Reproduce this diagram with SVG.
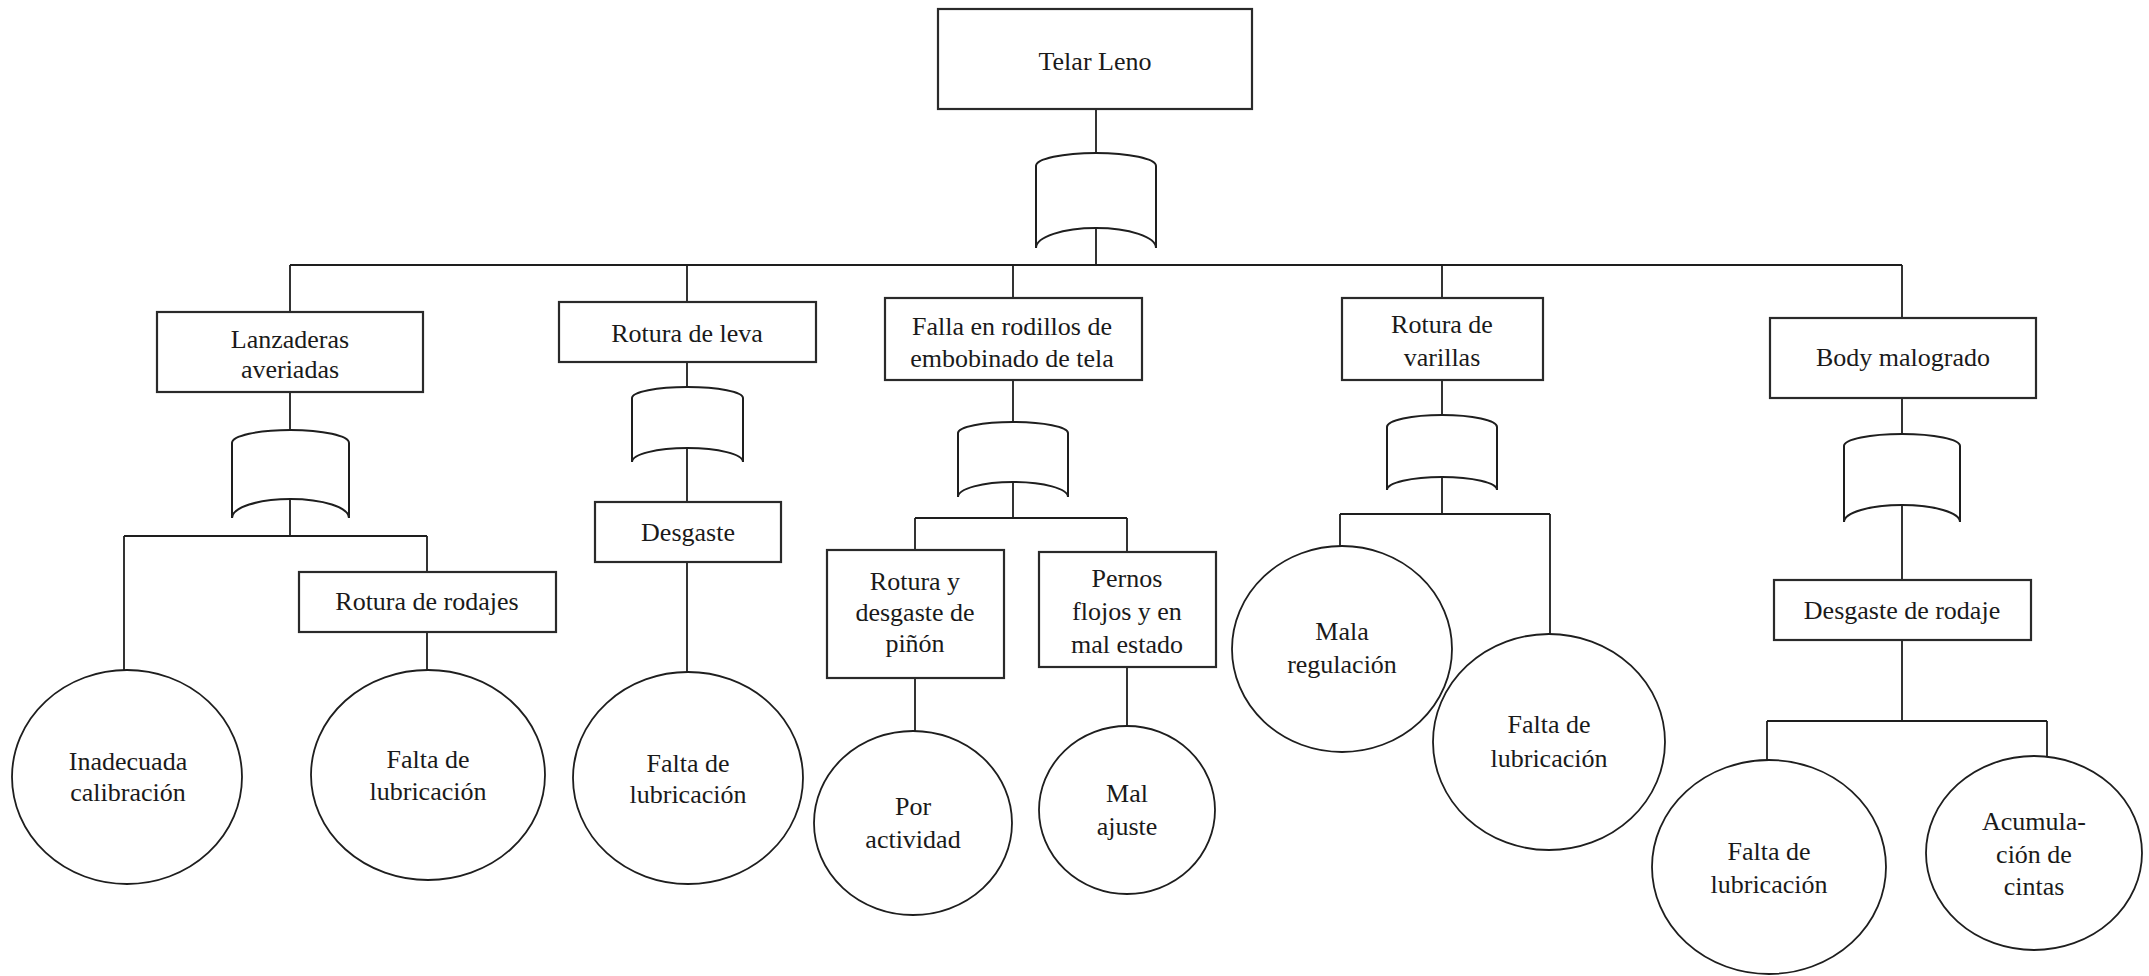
<svg xmlns="http://www.w3.org/2000/svg" width="2149" height="976" viewBox="0 0 2149 976">
  <style>
    .box { fill: #fff; stroke: #2a2a2a; stroke-width: 2.2; }
    .evt { fill: #fff; stroke: #1e1e1e; stroke-width: 1.8; }
    .gate { fill: #fff; stroke: #1e1e1e; stroke-width: 2; stroke-linejoin: miter; }
    .wire { fill: none; stroke: #1e1e1e; stroke-width: 1.8; }
    text { font-family: "Liberation Serif", "Times New Roman", serif; font-size: 26px; fill: #1a1a1a; text-anchor: middle; }
  </style>
  <rect width="2149" height="976" fill="#fff"/>

  <!-- connectors -->
  <g id="connectors" class="wire">
    <path d="M1096,109 V153 M1096,228 V265"/>
    <path d="M290,265 H1902"/>
    <path d="M290,265 V312 M687,265 V302 M1013,265 V298 M1442,265 V298 M1902,265 V318"/>
    <!-- Lanzaderas averiadas -->
    <path d="M290,392 V430 M290,499 V536 M124,536 H427 M124,536 V670 M427,536 V572 M427,632 V670"/>
    <!-- Rotura de leva -->
    <path d="M687,362 V387 M687,448 V502 M687,562 V672"/>
    <!-- Falla en rodillos -->
    <path d="M1013,380 V422 M1013,482 V518 M915,518 H1127 M915,518 V550 M1127,518 V552 M915,678 V731 M1127,667 V726"/>
    <!-- Rotura de varillas -->
    <path d="M1442,380 V415 M1442,477 V514 M1340,514 H1550 M1340,514 V546 M1550,514 V634"/>
    <!-- Body malogrado -->
    <path d="M1902,398 V434 M1902,505 V580 M1902,640 V721 M1767,721 H2047 M1767,721 V760 M2047,721 V756"/>
  </g>

  <!-- OR gates: half-ellipse top, concave half-ellipse bottom -->
  <g id="gates">
    <path id="gate-top" class="gate" d="M1036,166 A60,13 0 0 1 1156,166 L1156,248 A60,20 0 0 0 1036,248 Z"/>
    <path id="gate-lanzaderas" class="gate" d="M232,443 A58.5,13 0 0 1 349,443 L349,518 A58.5,19 0 0 0 232,518 Z"/>
    <path id="gate-leva" class="gate" d="M632,398 A55.5,11 0 0 1 743,398 L743,462 A55.5,14 0 0 0 632,462 Z"/>
    <path id="gate-rodillos" class="gate" d="M958,433 A55,11 0 0 1 1068,433 L1068,497 A55,15 0 0 0 958,497 Z"/>
    <path id="gate-varillas" class="gate" d="M1387,427 A55,12 0 0 1 1497,427 L1497,490 A55,13 0 0 0 1387,490 Z"/>
    <path id="gate-body" class="gate" d="M1844,446 A58,12 0 0 1 1960,446 L1960,522 A58,17 0 0 0 1844,522 Z"/>
  </g>

  <!-- intermediate events (boxes) -->
  <g id="n-telar">
    <rect class="box" x="938" y="9" width="314" height="100"/>
    <text x="1095" y="70">Telar Leno</text>
  </g>
  <g id="n-lanzaderas">
    <rect class="box" x="157" y="312" width="266" height="80"/>
    <text x="290" y="348">Lanzaderas</text>
    <text x="290" y="378">averiadas</text>
  </g>
  <g id="n-leva">
    <rect class="box" x="559" y="302" width="257" height="60"/>
    <text x="687" y="342">Rotura de leva</text>
  </g>
  <g id="n-rodillos">
    <rect class="box" x="885" y="298" width="257" height="82"/>
    <text x="1012" y="335">Falla en rodillos de</text>
    <text x="1012" y="367">embobinado de tela</text>
  </g>
  <g id="n-varillas">
    <rect class="box" x="1342" y="298" width="201" height="82"/>
    <text x="1442" y="333">Rotura de</text>
    <text x="1442" y="366">varillas</text>
  </g>
  <g id="n-body">
    <rect class="box" x="1770" y="318" width="266" height="80"/>
    <text x="1903" y="366">Body malogrado</text>
  </g>
  <g id="n-rodajes">
    <rect class="box" x="299" y="572" width="257" height="60"/>
    <text x="427" y="610">Rotura de rodajes</text>
  </g>
  <g id="n-desgaste">
    <rect class="box" x="595" y="502" width="186" height="60"/>
    <text x="688" y="541">Desgaste</text>
  </g>
  <g id="n-pinon">
    <rect class="box" x="827" y="550" width="177" height="128"/>
    <text x="915" y="590">Rotura y</text>
    <text x="915" y="621">desgaste de</text>
    <text x="915" y="652">piñón</text>
  </g>
  <g id="n-pernos">
    <rect class="box" x="1039" y="552" width="177" height="115"/>
    <text x="1127" y="587">Pernos</text>
    <text x="1127" y="620">flojos y en</text>
    <text x="1127" y="653">mal estado</text>
  </g>
  <g id="n-desgaste-rodaje">
    <rect class="box" x="1774" y="580" width="257" height="60"/>
    <text x="1902" y="619">Desgaste de rodaje</text>
  </g>

  <!-- basic events (ellipses) -->
  <g id="b-calibracion">
    <ellipse class="evt" cx="127" cy="777" rx="115" ry="107"/>
    <text x="128" y="770">Inadecuada</text>
    <text x="128" y="801">calibración</text>
  </g>
  <g id="b-lubricacion-1">
    <ellipse class="evt" cx="428" cy="775" rx="117" ry="105"/>
    <text x="428" y="768">Falta de</text>
    <text x="428" y="800">lubricación</text>
  </g>
  <g id="b-lubricacion-2">
    <ellipse class="evt" cx="688" cy="778" rx="115" ry="106"/>
    <text x="688" y="772">Falta de</text>
    <text x="688" y="803">lubricación</text>
  </g>
  <g id="b-actividad">
    <ellipse class="evt" cx="913" cy="823" rx="99" ry="92"/>
    <text x="913" y="815">Por</text>
    <text x="913" y="848">actividad</text>
  </g>
  <g id="b-ajuste">
    <ellipse class="evt" cx="1127" cy="810" rx="88" ry="84"/>
    <text x="1127" y="802">Mal</text>
    <text x="1127" y="835">ajuste</text>
  </g>
  <g id="b-regulacion">
    <ellipse class="evt" cx="1342" cy="649" rx="110" ry="103"/>
    <text x="1342" y="640">Mala</text>
    <text x="1342" y="673">regulación</text>
  </g>
  <g id="b-lubricacion-3">
    <ellipse class="evt" cx="1549" cy="742" rx="116" ry="108"/>
    <text x="1549" y="733">Falta de</text>
    <text x="1549" y="767">lubricación</text>
  </g>
  <g id="b-lubricacion-4">
    <ellipse class="evt" cx="1769" cy="867" rx="117" ry="107"/>
    <text x="1769" y="860">Falta de</text>
    <text x="1769" y="893">lubricación</text>
  </g>
  <g id="b-cintas">
    <ellipse class="evt" cx="2034" cy="853" rx="108" ry="97"/>
    <text x="2034" y="830">Acumula-</text>
    <text x="2034" y="863">ción de</text>
    <text x="2034" y="895">cintas</text>
  </g>
</svg>
